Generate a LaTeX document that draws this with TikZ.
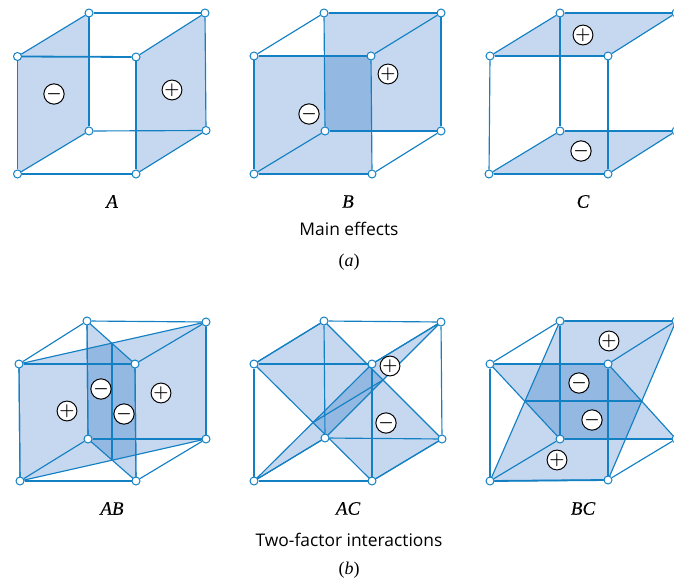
\documentclass[tikz,border=0pt]{standalone}
\usepackage{fontspec}
\setmainfont{Liberation Serif}
\newfontfamily\capfont{Open Sans}
\newfontfamily\letterfont{Liberation Serif}[ItalicFeatures={FakeBold=0.3}]
\usetikzlibrary{backgrounds}
\definecolor{edgeblue}{HTML}{1380C4}
\definecolor{lightplane}{HTML}{C6D8EF}
\definecolor{darkplane}{HTML}{93B8E1}
\tikzset{
  x=1pt,y=-1pt,
  vertex/.style={circle,draw=edgeblue,fill=white,line width=1pt,inner sep=0pt,minimum size=8pt},
  edge/.style={draw=edgeblue,line width=1.15pt},
  boldedge/.style={draw=edgeblue,line width=1.8pt},
  planeline/.style={draw=edgeblue,line width=1.15pt,line join=round},
  sign/.style={circle,draw=black,fill=white,line width=1pt,inner sep=0pt,minimum size=18.5pt,font=\fontsize{18}{18}\selectfont\boldmath},
  letter/.style={font=\fontsize{19}{20}\selectfont\letterfont\itshape,inner sep=0pt},
  caption/.style={font=\fontsize{17.4}{20}\selectfont\capfont,inner sep=0pt},
  sublabel/.style={font=\fontsize{18}{20}\selectfont,inner sep=0pt},
}
% name, ftl, ftr, fbl, fbr, btl, btr, bbl, bbr
\newcommand{\cubeverts}[9]{%
  \node[vertex] (#1ftl) at (#2) {};
  \node[vertex] (#1ftr) at (#3) {};
  \node[vertex] (#1fbl) at (#4) {};
  \node[vertex] (#1fbr) at (#5) {};
  \node[vertex] (#1btl) at (#6) {};
  \node[vertex] (#1btr) at (#7) {};
  \node[vertex] (#1bbl) at (#8) {};
  \node[vertex] (#1bbr) at (#9) {};
}
\newcommand{\cubeedges}[1]{%
  \draw[edge] (#1ftl) -- (#1btl);
  \draw[edge] (#1ftr) -- (#1btr);
  \draw[edge] (#1fbl) -- (#1bbl);
  \draw[edge] (#1fbr) -- (#1bbr);
  \draw[edge] (#1btl) -- (#1btr);
  \draw[edge] (#1bbl) -- (#1bbr);
  \draw[edge] (#1btl) -- (#1bbl);
  \draw[edge] (#1btr) -- (#1bbr);
  \draw[edge] (#1ftl) -- (#1fbl);
  \draw[edge] (#1ftr) -- (#1fbr);
  \draw[boldedge] (#1ftl) -- (#1ftr);
  \draw[boldedge] (#1fbl) -- (#1fbr);
}
\newcommand{\planepath}[5]{(#1#2.center) -- (#1#3.center) -- (#1#4.center) -- (#1#5.center) -- cycle}
\newcommand{\oneplane}[5]{%
  \fill[lightplane] \planepath{#1}{#2}{#3}{#4}{#5};
}
\newcommand{\overlapplanes}[9]{%
  \begin{scope}
    \clip \planepath{#1}{#2}{#3}{#4}{#5};
    \fill[darkplane] \planepath{#1}{#6}{#7}{#8}{#9};
  \end{scope}
}
\newcommand{\planeoutline}[5]{%
  \draw[planeline] \planepath{#1}{#2}{#3}{#4}{#5};
}
\begin{document}
\begin{tikzpicture}
\useasboundingbox (0,0) rectangle (674,580);
\clip (0,0) rectangle (674,580);

% ---------- vertices
\cubeverts{a}{17.5,56.5}{136,57}{17.5,174}{136,174}{89,13}{205,13}{89,131}{206,130.5}
\cubeverts{b}{254,56}{371,56}{254,174}{372,174}{324,13}{441,13}{325,131}{441,131}
\cubeverts{c}{490,56}{608,56}{489,174}{608,174}{560,13}{676,13}{560,131}{676,131}
\cubeverts{d}{19,364}{135,364}{20,481}{136,481}{87,321}{206,322}{88,439}{206,439}
\cubeverts{e}{254,364}{372,364}{254,481}{372,481}{324,321}{441,322}{325,438}{442,439}
\cubeverts{f}{490,364}{608,364}{490,481}{608,480}{560,321}{676,321}{560,439}{676,439}

\begin{pgfonlayer}{background}
  % A
  \oneplane{a}{ftl}{btl}{bbl}{fbl}
  \oneplane{a}{ftr}{btr}{bbr}{fbr}
  % B
  \oneplane{b}{ftl}{ftr}{fbr}{fbl}
  \oneplane{b}{btl}{btr}{bbr}{bbl}
  \overlapplanes{b}{ftl}{ftr}{fbr}{fbl}{btl}{btr}{bbr}{bbl}
  % C
  \oneplane{c}{ftl}{btl}{btr}{ftr}
  \oneplane{c}{fbl}{bbl}{bbr}{fbr}
  % AB
  \oneplane{d}{ftl}{btr}{bbr}{fbl}
  \oneplane{d}{btl}{ftr}{fbr}{bbl}
  \overlapplanes{d}{ftl}{btr}{bbr}{fbl}{btl}{ftr}{fbr}{bbl}
  % AC
  \oneplane{e}{ftl}{btl}{bbr}{fbr}
  \oneplane{e}{fbl}{ftr}{btr}{bbl}
  \overlapplanes{e}{ftl}{btl}{bbr}{fbr}{fbl}{ftr}{btr}{bbl}
  % BC
  \oneplane{f}{btl}{btr}{fbr}{fbl}
  \oneplane{f}{ftl}{ftr}{bbr}{bbl}
  \overlapplanes{f}{btl}{btr}{fbr}{fbl}{ftl}{ftr}{bbr}{bbl}

  \cubeedges{a}\cubeedges{b}\cubeedges{c}\cubeedges{d}\cubeedges{e}\cubeedges{f}

  \planeoutline{d}{ftl}{btr}{bbr}{fbl}
  \planeoutline{d}{btl}{ftr}{fbr}{bbl}
  \planeoutline{e}{ftl}{btl}{bbr}{fbr}
  \planeoutline{e}{fbl}{ftr}{btr}{bbl}
  \planeoutline{f}{btl}{btr}{fbr}{fbl}
  \planeoutline{f}{ftl}{ftr}{bbr}{bbl}

  % lines where the planes cross
  \coordinate (dx1) at (112,343);
  \coordinate (dx2) at (112,459);
  \draw[edge] (dx1) -- (dx2);
  \coordinate (ex1) at (313,422.5);
  \coordinate (ex2) at (383,380);
  \draw[edge] (ex1) -- (ex2);
  \coordinate (fx1) at (525.5,401);
  \coordinate (fx2) at (642,401);
  \draw[edge] (fx1) -- (fx2);
\end{pgfonlayer}

% ---------- signs
\node[sign] (s1) at (54,94) {$-$};
\node[sign] (s2) at (172,90) {$+$};
\node[sign] (s3) at (309,114) {$-$};
\node[sign] (s4) at (388,74) {$+$};
\node[sign] (s5) at (583,35) {$+$};
\node[sign] (s6) at (581,151) {$-$};
\node[sign] (s7) at (67,411) {$+$};
\node[sign] (s8) at (101,389) {$-$};
\node[sign] (s9) at (124,414) {$-$};
\node[sign] (s10) at (161,393) {$+$};
\node[sign] (s11) at (390,366) {$+$};
\node[sign] (s12) at (386,423) {$-$};
\node[sign] (s13) at (609,341) {$+$};
\node[sign] (s14) at (579,383) {$-$};
\node[sign] (s15) at (592,420) {$-$};
\node[sign] (s16) at (557,460) {$+$};

% ---------- labels
\node[letter] (la) at (112,201.5) {A};
\node[letter] (lb) at (348,201.5) {B};
\node[letter] (lc) at (583,201.5) {C};
\node[letter] (lab) at (112,508.5) {AB};
\node[letter] (lac) at (348,508.5) {AC};
\node[letter] (lbc) at (583,508.5) {BC};
\node[caption] (cap1) at (349,229) {Main effects};
\node[caption] (cap2) at (349,540) {Two-factor interactions};
\node[sublabel] (suba) at (349,262.5) {(\textit{a})};
\node[sublabel] (subb) at (349,570.5) {(\textit{b})};
\end{tikzpicture}
\end{document}
